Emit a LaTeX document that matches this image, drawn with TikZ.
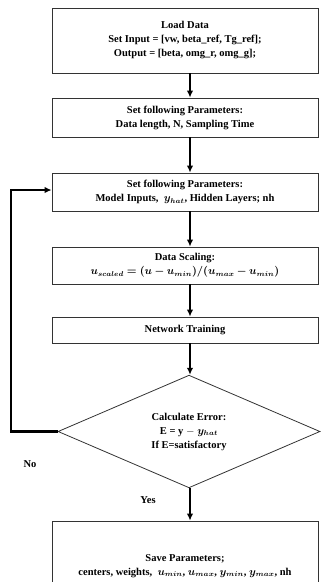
\documentclass[tikz,border=0pt]{standalone}
\usepackage{fontspec}
\setmainfont{Liberation Serif}
\usepackage{amsmath,bm}
\usetikzlibrary{shapes.geometric,arrows.meta}
\begin{document}
\begin{tikzpicture}[x=1pt,y=-1pt,
  stepbox/.style={draw=black!80,line width=0.8pt,minimum width=266pt,inner sep=0pt,align=center,font=\fontsize{10.5}{14}\selectfont\bfseries},
  decision/.style={draw=black!80,line width=0.8pt,diamond,minimum width=262pt,minimum height=109pt,inner sep=0pt,align=center,font=\fontsize{10.5}{14}\selectfont\bfseries},
  flow/.style={line width=2.4pt,-{Latex[length=7pt,width=6.5pt]}},
  lbl/.style={font=\fontsize{10.5}{12}\selectfont\bfseries}]
\useasboundingbox (0,0) rectangle (321,582);
\clip (0,0) rectangle (321,582);
\node[stepbox,minimum height=65pt] (b1) at (185,40.5) {Load Data\\Set Input = [vw, beta\_ref, Tg\_ref];\\Output = [beta, omg\_r, omg\_g];};
\node[stepbox,minimum height=39pt] (b2) at (185,117.5) {Set following Parameters:\\Data length, N, Sampling Time};
\node[stepbox,minimum height=38pt] (b3) at (185,192) {Set following Parameters:\\Model Inputs, \ $\bm{y_{hat}}$, Hidden Layers; nh};
\node[stepbox,minimum height=37pt] (b4) at (185,265.5) {Data Scaling:\\$\bm{u_{scaled}=(u-u_{min})/(u_{max}-u_{min})}$};
\node[stepbox,minimum height=26pt] (b5) at (185,330) {Network Training};
\node[decision] (d) at (189,431.5) {Calculate Error:\\E = y $-$ $\bm{y_{hat}}$\\If E=satisfactory};
\node[stepbox,minimum height=90pt] (b6) at (185,566) {Save Parameters;\\centers, weights, \ $\bm{u_{min}}$, $\bm{u_{max}}$, $\bm{y_{min}}$, $\bm{y_{max}}$, nh};
\coordinate (c1) at (11,431.5);
\coordinate (c2) at (11,190);
\draw[flow] (b1.south -| 190,0) -- (b2.north -| 190,0);
\draw[flow] (b2.south -| 190,0) -- (b3.north -| 190,0);
\draw[flow] (b3.south -| 190,0) -- (b4.north -| 190,0);
\draw[flow] (b4.south -| 190,0) -- (b5.north -| 190,0);
\draw[flow] (b5.south -| 190,0) -- (d.north -| 190,0);
\draw[flow] (d.south -| 190,0) -- (b6.north -| 190,0);
\draw[flow] (d.west) -- (c1) -- (c2) -- (c2 -| b3.west);
\node[lbl] (no) at (30,464) {No};
\node[lbl] (yes) at (148,500) {Yes};
\end{tikzpicture}
\end{document}
